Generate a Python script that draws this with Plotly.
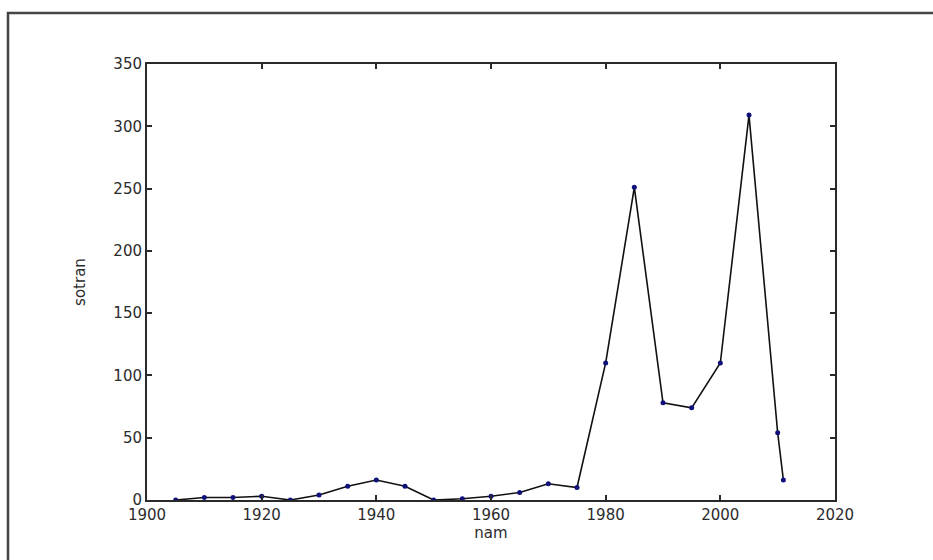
import plotly.graph_objects as go

# Counts per year
nam = [1905, 1910, 1915, 1920, 1925, 1930, 1935, 1940, 1945, 1950, 1955,
       1960, 1965, 1970, 1975, 1980, 1985, 1990, 1995, 2000, 2005, 2010, 2011]
sotran = [0, 2, 2, 3, 0, 4, 11, 16, 11, 0, 1,
          3, 6, 13, 10, 110, 251, 78, 74, 110, 309, 54, 16]

x_ticks = [1900, 1920, 1940, 1960, 1980, 2000, 2020]
y_ticks = [0, 50, 100, 150, 200, 250, 300, 350]

W, H = 933, 560
L, R, T, B = 147, 98, 64, 60
pw, ph = W - L - R, H - T - B

fig = go.Figure()
fig.add_trace(go.Scatter(
    x=nam, y=sotran, mode="lines+markers",
    line=dict(color="#111111", width=1.6),
    marker=dict(color="#10107a", size=5, symbol="circle"),
    showlegend=False,
))

axis_common = dict(
    showgrid=False, zeroline=False, showline=True, mirror="ticks",
    linecolor="#2a2a2a", linewidth=2, ticks="inside", ticklen=5,
    tickwidth=1.5, tickcolor="#2a2a2a",
    tickfont=dict(family="DejaVu Sans", size=15, color="#2b2b2b"),
)

fig.update_xaxes(range=[1900, 2020], tickvals=x_ticks,
                 ticktext=[str(v) for v in x_ticks],
                 title=dict(text="nam", standoff=2,
                            font=dict(family="DejaVu Sans", size=15, color="#2b2b2b")),
                 **axis_common)
fig.update_yaxes(range=[0, 350], tickvals=y_ticks,
                 ticktext=[str(v) for v in y_ticks],
                 title=dict(text="sotran", standoff=24,
                            font=dict(family="DejaVu Sans", size=15, color="#2b2b2b")),
                 **axis_common)

# Outer figure frame (left and top edges visible)
fig.add_shape(type="rect", xref="paper", yref="paper",
              x0=(8 - L) / pw, x1=(W + 20 - L) / pw,
              y0=(H - B - (H + 20)) / ph, y1=(H - B - 13) / ph,
              line=dict(color="#444444", width=2.5), fillcolor="rgba(0,0,0,0)",
              layer="below")

fig.update_layout(
    width=W, height=H,
    margin=dict(l=L, r=R, t=T, b=B),
    paper_bgcolor="white", plot_bgcolor="white",
)

fig.write_html("out.html")
